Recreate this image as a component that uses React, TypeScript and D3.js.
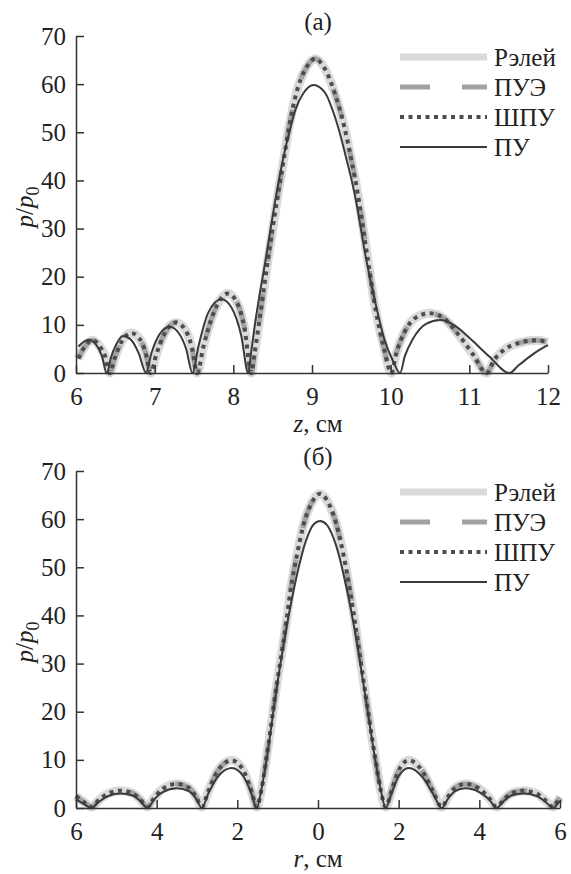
import React, { useEffect, useRef } from 'react';
import * as d3 from 'd3';

const seriesNames = ['Рэлей', 'ПУЭ', 'ШПУ', 'ПУ'];

// panel (а): pressure along the axis, z in cm
const zTicks = [6, 7, 8, 9, 10, 11, 12];
const rayleighA: [number, number][] = [
  [6.03, 3.0], [6.1, 5.2], [6.21, 6.8], [6.3, 5.6], [6.37, 3.5], [6.43, 0],
  [6.49, 3.0], [6.57, 6.2], [6.7, 8.3], [6.8, 7.3], [6.88, 4.5], [6.95, 0],
  [7.02, 3.8], [7.12, 8.0], [7.27, 10.5], [7.38, 9.2], [7.47, 5.5], [7.54, 0],
  [7.62, 5.5], [7.75, 12.5], [7.93, 16.5], [8.05, 14.5], [8.14, 9.5], [8.23, 0],
  [8.26, 3.0], [8.32, 9.6], [8.44, 23.5], [8.57, 37.4], [8.64, 44.3], [8.71, 51.2],
  [8.8, 58.1], [8.93, 63.5], [9.04, 65.3], [9.16, 63.3], [9.29, 58.1], [9.41, 51.2],
  [9.5, 44.3], [9.58, 37.4], [9.71, 23.5], [9.81, 13], [9.91, 5.5], [10.01, 0],
  [10.07, 4.0], [10.17, 8.3], [10.32, 11.5], [10.5, 12.4], [10.68, 11.3], [10.86, 8.0],
  [11.05, 3.8], [11.22, 0],
  [11.32, 2.8], [11.45, 4.9], [11.62, 6.2], [11.85, 6.8], [12.0, 6.4],
];
// ПУЭ and ШПУ lie on top of the Rayleigh curve at this scale
const pueA = rayleighA;
const shpuA = rayleighA;
const puA: [number, number][] = [
  [6.03, 5.5], [6.16, 6.9], [6.26, 5.8], [6.33, 3.5], [6.39, 0],
  [6.45, 3.5], [6.51, 5.9], [6.6, 7.7], [6.7, 6.9], [6.8, 4.0], [6.89, 0],
  [6.96, 4.2], [7.06, 8.0], [7.19, 9.6], [7.31, 8.2], [7.4, 5.0], [7.48, 0],
  [7.56, 5.8], [7.68, 12.5], [7.85, 15.3], [7.98, 13.5], [8.1, 7.8], [8.19, 0],
  [8.22, 3.5], [8.27, 9.6], [8.41, 23.5], [8.55, 37.4], [8.63, 44.3], [8.73, 51.2],
  [8.79, 54.7], [8.89, 58.1], [9.02, 59.8], [9.17, 58.1], [9.26, 54.7], [9.33, 51.2],
  [9.44, 44.3], [9.54, 37.4], [9.69, 23.5], [9.8, 15], [9.92, 7], [10.03, 2.5], [10.12, 0],
  [10.18, 3.5], [10.28, 7.0], [10.45, 10.2], [10.63, 11.0], [10.82, 9.8], [11.02, 7.0],
  [11.25, 3.5], [11.51, 0],
  [11.62, 1.5], [11.75, 3.2], [11.88, 4.7], [12.0, 5.8],
];

// panel (б): pressure across the focus, r in cm
const rTicks = [-6, -4, -2, 0, 2, 4, 6];
const rayleighB: [number, number][] = [
  [-6.0, 2.5], [-5.8, 1.2], [-5.61, 0.2],
  [-5.45, 1.5], [-5.2, 3.0], [-4.9, 3.6], [-4.6, 3.1], [-4.4, 1.7], [-4.23, 0.2],
  [-4.07, 2.0], [-3.85, 4.0], [-3.5, 5.0], [-3.2, 4.2], [-3.02, 2.3], [-2.88, 0.2],
  [-2.72, 3.5], [-2.5, 7.5], [-2.14, 9.9], [-1.85, 7.8], [-1.65, 3.5], [-1.52, 0.2],
  [-1.4, 3.9], [-1.27, 10.8], [-1.04, 24.6], [-0.79, 38.4], [-0.68, 45.3], [-0.53, 52.2],
  [-0.35, 59.1], [-0.15, 63.5], [0.05, 65.3], [0.25, 63.5], [0.45, 59.1], [0.64, 52.2],
  [0.79, 45.3], [0.92, 38.4], [1.16, 24.6], [1.41, 10.8], [1.55, 3.9], [1.68, 0.2],
  [1.82, 3.5], [2.0, 7.8], [2.25, 9.9], [2.6, 7.5], [2.85, 3.5], [3.07, 0.2],
  [3.22, 2.3], [3.4, 4.2], [3.65, 5.0], [4.0, 4.0], [4.25, 2.0], [4.43, 0.2],
  [4.6, 1.7], [4.8, 3.1], [5.1, 3.6], [5.42, 3.0], [5.65, 1.5], [5.83, 0.2],
  [5.93, 1.3], [6.0, 2.2],
];
const pueB = rayleighB;
const shpuB = rayleighB;
const puB: [number, number][] = [
  [-6.0, 1.8], [-5.8, 0.8], [-5.61, 0],
  [-5.45, 1.2], [-5.2, 2.5], [-4.9, 3.0], [-4.6, 2.6], [-4.4, 1.4], [-4.23, 0],
  [-4.07, 1.7], [-3.85, 3.3], [-3.5, 4.1], [-3.2, 3.5], [-3.02, 1.9], [-2.88, 0],
  [-2.72, 3.0], [-2.5, 6.3], [-2.14, 8.3], [-1.85, 6.6], [-1.65, 3.0], [-1.52, 0],
  [-1.4, 4.0], [-1.26, 11], [-1.03, 24.6], [-0.78, 37.5], [-0.52, 48.5], [-0.3, 55.5],
  [-0.1, 59], [0.05, 59.6], [0.22, 58.8], [0.45, 54.5], [0.7, 46], [0.93, 36],
  [1.17, 23.5], [1.42, 10], [1.55, 4], [1.68, 0],
  [1.82, 3.0], [2.0, 6.6], [2.25, 8.3], [2.6, 6.3], [2.85, 3.0], [3.07, 0],
  [3.22, 1.9], [3.4, 3.5], [3.65, 4.1], [4.0, 3.3], [4.25, 1.7], [4.43, 0],
  [4.6, 1.4], [4.8, 2.6], [5.1, 3.0], [5.42, 2.5], [5.65, 1.2], [5.83, 0],
  [5.95, 1.0], [6.0, 1.5],
];

const yTicks = [0, 10, 20, 30, 40, 50, 60, 70];

const lineStyles = [
  { stroke: '#dadada', width: 9, dash: null },
  { stroke: '#a2a2a2', width: 5, dash: '30 32' },
  { stroke: '#4d4d4d', width: 4, dash: '4 4.5' },
  { stroke: '#3a3a3a', width: 2, dash: null },
];

const FONT = "'Liberation Serif', Tinos, 'Times New Roman', 'Noto Serif', 'DejaVu Serif', serif";
const TEXT = '#222';

function drawPanel(root, cfg) {
  const { top, x0, x1, domain, ticks, data, title, varName } = cfg;
  const yBottom = top + 337;

  const x = d3.scaleLinear().domain(domain).range([x0, x1]);
  const y = d3.scaleLinear().domain([0, 70]).range([yBottom, top]);

  const g = root.append('g')
    .attr('font-family', FONT)
    .attr('font-size', 25);

  // curves
  const line = d3.line<[number, number]>()
    .x(d => x(d[0]))
    .y(d => y(d[1]))
    .curve(d3.curveMonotoneX);

  data.forEach((series, i) => {
    const s = lineStyles[i];
    g.append('path')
      .attr('d', line(series))
      .attr('fill', 'none')
      .attr('stroke', s.stroke)
      .attr('stroke-width', s.width)
      .attr('stroke-dasharray', s.dash)
      .attr('stroke-linejoin', 'round');
  });

  // axes
  const xAxis = g.append('g')
    .attr('transform', `translate(0,${yBottom})`)
    .call(d3.axisBottom(x).tickValues(ticks).tickSizeInner(-8).tickSizeOuter(0)
      .tickPadding(14).tickFormat(d => String(Math.abs(d))));
  const yAxis = g.append('g')
    .attr('transform', `translate(${x0},0)`)
    .call(d3.axisLeft(y).tickValues(yTicks).tickSizeInner(-8).tickSizeOuter(0).tickPadding(10));

  [xAxis, yAxis].forEach(a => {
    a.attr('font-family', FONT).attr('font-size', 25);
    a.selectAll('path, line').attr('stroke', '#333').attr('stroke-width', 1.5);
    a.selectAll('text').attr('fill', TEXT);
  });

  // title
  g.append('text')
    .attr('x', 318)
    .attr('y', top - 6)
    .attr('text-anchor', 'middle')
    .attr('fill', TEXT)
    .text(title);

  // x label
  const xl = g.append('text')
    .attr('x', 318)
    .attr('y', yBottom + 59)
    .attr('text-anchor', 'middle')
    .attr('fill', TEXT);
  xl.append('tspan').attr('font-style', 'italic').text(varName);
  xl.append('tspan').text(', см');

  // y label
  const yl = g.append('text')
    .attr('transform', `translate(33,${top + 171}) rotate(-90)`)
    .attr('text-anchor', 'middle')
    .attr('fill', TEXT);
  yl.append('tspan').attr('font-style', 'italic').text('p');
  yl.append('tspan').text('/');
  yl.append('tspan').attr('font-style', 'italic').text('p');
  yl.append('tspan').attr('dy', 6).attr('font-size', 18).text('0');

  // legend
  seriesNames.forEach((name, i) => {
    const s = lineStyles[i];
    const ly = top + 21 + i * 30;
    g.append('line')
      .attr('x1', 400).attr('x2', 487)
      .attr('y1', ly).attr('y2', ly)
      .attr('stroke', s.stroke)
      .attr('stroke-width', i === 0 ? 7 : s.width)
      .attr('stroke-dasharray', s.dash);
    g.append('text')
      .attr('x', 494)
      .attr('y', ly + 9)
      .attr('fill', TEXT)
      .text(name);
  });
}

export default function App() {
  const svgRef = useRef(null);

  useEffect(() => {
    const svg = d3.select(svgRef.current);
    svg.selectAll('*').remove();

    drawPanel(svg, {
      top: 36, x0: 76, x1: 548, domain: [6, 12], ticks: zTicks,
      data: [rayleighA, pueA, shpuA, puA], title: '(а)', varName: 'z',
    });
    drawPanel(svg, {
      top: 471, x0: 76, x1: 560, domain: [-6, 6], ticks: rTicks,
      data: [rayleighB, pueB, shpuB, puB], title: '(б)', varName: 'r',
    });
  }, []);

  return (
    <svg
      ref={svgRef}
      width={571}
      height={874}
      style={{ position: 'absolute', left: 0, top: 0, background: '#fff' }}
    />
  );
}
